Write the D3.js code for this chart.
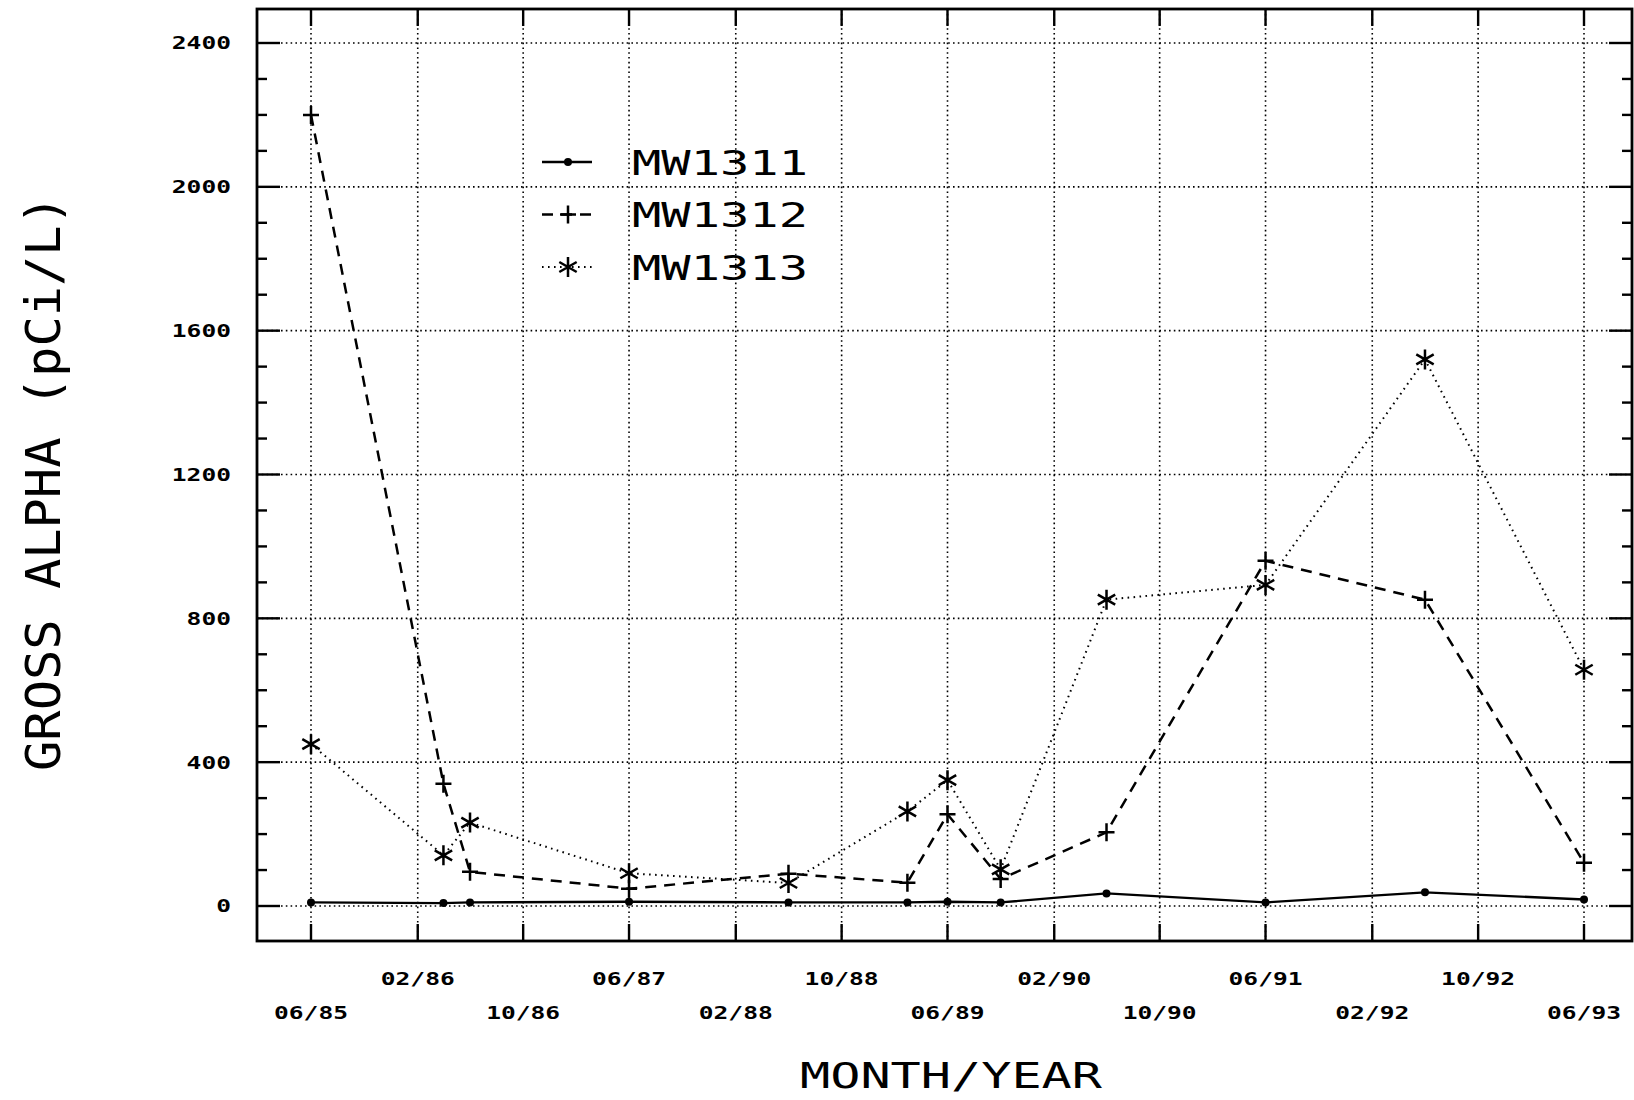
<!DOCTYPE html>
<html lang="en">
<head>
<meta charset="UTF-8">
<title>Gross Alpha</title>
<script src="https://d3js.org/d3.v7.min.js"></script>
<style>
  body { margin: 0; background: #fff; }
  svg { display: block; background: #fff; }
  .tick-label { font-family: "DejaVu Sans Mono", monospace; font-weight: bold; font-size: 18px; fill: #000; }
  .title { font-family: "DejaVu Sans Mono", monospace; fill: #000; }
  .grid { stroke: #000; stroke-width: 1.6; stroke-dasharray: 1.6,3.2; fill: none; }
  .tick { stroke: #000; stroke-width: 2.4; }
</style>
</head>
<body>
<svg width="1634" height="1100"></svg>
<script>
// sample dates (MM/YY)
const dates = ["06/85", "04/86", "06/86", "06/87", "06/88", "03/89", "06/89", "10/89", "06/90", "06/91", "06/92", "06/93"];
// gross alpha, pCi/L
const mw1311 = [10, 8, 10, 12, 10, 10, 12, 10, 35, 10, 38, 18];
const mw1312 = [2200, 340, 95, 48, 90, 65, 255, 75, 205, 960, 852, 120];
const mw1313 = [450, 141, 232, 91, 64, 263, 350, 102, 852, 893, 1520, 657];

const seriesNames = ["MW1311", "MW1312", "MW1313"];
const xTickLabels = ["06/85", "02/86", "10/86", "06/87", "02/88", "10/88", "06/89", "02/90", "10/90", "06/91", "02/92", "10/92", "06/93"];
const yTickValues = [0, 400, 800, 1200, 1600, 2000, 2400];

const svg = d3.select("svg");
const frame = {left: 257, right: 1632, top: 9, bottom: 941};

const parseMonth = d3.timeParse("%m/%y");
const x = d3.scaleTime()
  .domain([parseMonth(xTickLabels[0]), parseMonth(xTickLabels[xTickLabels.length - 1])])
  .range([311, 1584]);
const y = d3.scaleLinear().domain([0, 2400]).range([906, 43]);

// grid
svg.append("g").selectAll("line")
  .data(xTickLabels)
  .join("line")
  .attr("class", "grid")
  .attr("x1", d => x(parseMonth(d))).attr("x2", d => x(parseMonth(d)))
  .attr("y1", frame.top).attr("y2", frame.bottom);

svg.append("g").selectAll("line")
  .data(yTickValues)
  .join("line")
  .attr("class", "grid")
  .attr("x1", frame.left).attr("x2", frame.right)
  .attr("y1", d => y(d)).attr("y2", d => y(d));

// frame
svg.append("rect")
  .attr("x", frame.left).attr("y", frame.top)
  .attr("width", frame.right - frame.left).attr("height", frame.bottom - frame.top)
  .attr("fill", "none").attr("stroke", "#000").attr("stroke-width", 2.8);

// y ticks, both sides
const yMinor = d3.range(100, 2400, 100).filter(v => v % 400 !== 0);
const ticksG = svg.append("g");
[[yTickValues, 23], [yMinor, 10]].forEach(([vals, len]) => {
  ticksG.selectAll(null).data(vals).join("line")
    .attr("class", "tick")
    .attr("x1", frame.left).attr("x2", frame.left + len)
    .attr("y1", d => y(d)).attr("y2", d => y(d));
  ticksG.selectAll(null).data(vals).join("line")
    .attr("class", "tick")
    .attr("x1", frame.right).attr("x2", frame.right - len)
    .attr("y1", d => y(d)).attr("y2", d => y(d));
});

// x ticks, top and bottom
ticksG.selectAll(null).data(xTickLabels).join("line")
  .attr("class", "tick")
  .attr("x1", d => x(parseMonth(d))).attr("x2", d => x(parseMonth(d)))
  .attr("y1", frame.bottom).attr("y2", frame.bottom - 17);
ticksG.selectAll(null).data(xTickLabels).join("line")
  .attr("class", "tick")
  .attr("x1", d => x(parseMonth(d))).attr("x2", d => x(parseMonth(d)))
  .attr("y1", frame.top).attr("y2", frame.top + 17);

// tick labels
svg.append("g").selectAll("text")
  .data(yTickValues)
  .join("text")
  .attr("class", "tick-label")
  .attr("x", 231)
  .attr("y", d => y(d))
  .attr("dy", "0.36em")
  .attr("text-anchor", "end")
  .attr("textLength", d => String(d).length * 14.8)
  .attr("lengthAdjust", "spacingAndGlyphs")
  .text(d => d);

svg.append("g").selectAll("text")
  .data(xTickLabels)
  .join("text")
  .attr("class", "tick-label")
  .attr("x", d => x(parseMonth(d)))
  .attr("y", (d, i) => i % 2 === 1 ? 985 : 1019)
  .attr("text-anchor", "middle")
  .attr("textLength", 74)
  .attr("lengthAdjust", "spacingAndGlyphs")
  .text(d => d);

// axis titles
svg.append("text")
  .attr("class", "title")
  .attr("transform", "translate(60,483) rotate(-90)")
  .attr("text-anchor", "middle")
  .attr("font-size", 48)
  .attr("textLength", 576)
  .attr("lengthAdjust", "spacingAndGlyphs")
  .text("GROSS ALPHA (pCi/L)");

svg.append("text")
  .attr("class", "title")
  .attr("x", 951).attr("y", 1088)
  .attr("text-anchor", "middle")
  .attr("font-size", 36)
  .attr("textLength", 302)
  .attr("lengthAdjust", "spacingAndGlyphs")
  .text("MONTH/YEAR");

// series
const styles = [
  {dash: null, width: 2.4, marker: "dot"},
  {dash: "11,8", width: 2.5, marker: "plus"},
  {dash: "1.6,4.4", width: 2, marker: "star"}
];
const markerPath = {
  plus: "M-8,0H8M0,-9V9",
  star: "M0,-10V10M-8.7,-5L8.7,5M-8.7,5L8.7,-5"
};
const series = [mw1311, mw1312, mw1313].map((vals, i) => ({
  name: seriesNames[i],
  style: styles[i],
  points: vals.map((v, j) => ({date: parseMonth(dates[j]), value: v}))
}));

const line = d3.line().x(d => x(d.date)).y(d => y(d.value));

function drawMarker(g, type, px, py) {
  if (type === "dot") {
    g.append("circle").attr("cx", px).attr("cy", py).attr("r", 4).attr("fill", "#000");
  } else {
    g.append("path")
      .attr("transform", `translate(${px},${py})`)
      .attr("d", markerPath[type])
      .attr("stroke", "#000").attr("stroke-width", 2.5).attr("fill", "none");
  }
}

series.forEach(s => {
  const g = svg.append("g");
  g.append("path")
    .datum(s.points)
    .attr("d", line)
    .attr("fill", "none")
    .attr("stroke", "#000")
    .attr("stroke-width", s.style.width)
    .attr("stroke-dasharray", s.style.dash);
  s.points.forEach(p => drawMarker(g, s.style.marker, x(p.date), y(p.value)));
});

// legend
const legend = svg.append("g");
series.forEach((s, i) => {
  const cy = 162 + i * 52.5;
  legend.append("line")
    .attr("x1", 542).attr("x2", 592)
    .attr("y1", cy).attr("y2", cy)
    .attr("stroke", "#000")
    .attr("stroke-width", s.style.width)
    .attr("stroke-dasharray", s.style.dash);
  drawMarker(legend, s.style.marker, 568, cy);
  legend.append("text")
    .attr("class", "title")
    .attr("x", 632).attr("y", cy + 12.5)
    .attr("font-size", 34)
    .attr("textLength", 176)
    .attr("lengthAdjust", "spacingAndGlyphs")
    .text(s.name);
});
</script>
</body>
</html>
